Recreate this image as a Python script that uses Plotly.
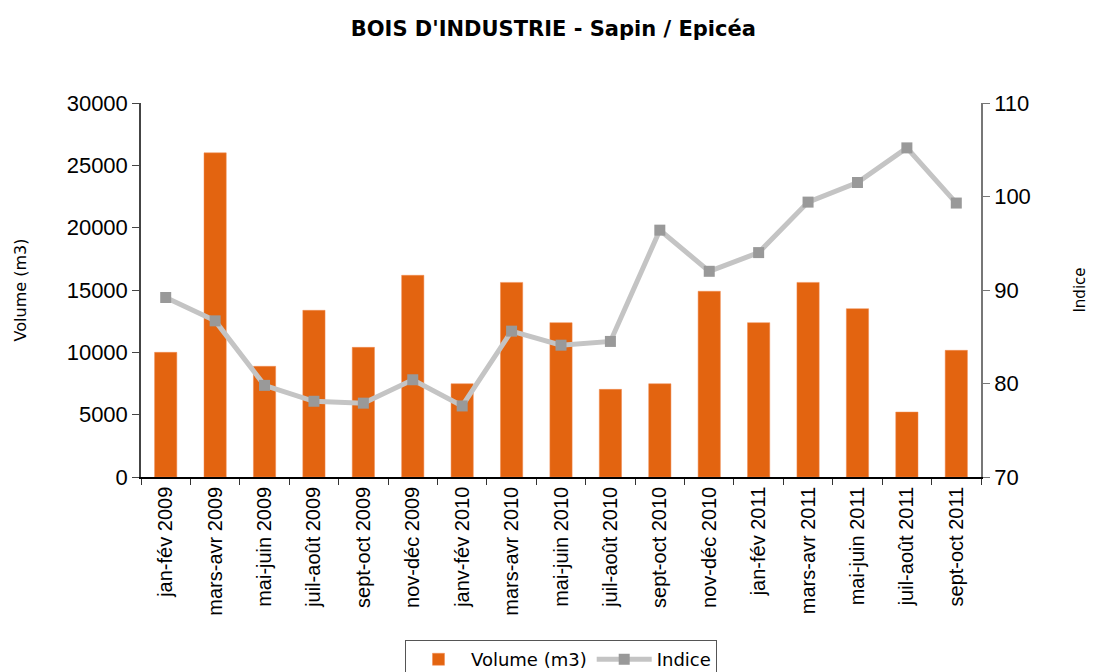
import plotly.graph_objects as go

categories = ["jan-fév 2009", "mars-avr 2009", "mai-juin 2009", "juil-août 2009", "sept-oct 2009",
              "nov-déc 2009", "janv-fév 2010", "mars-avr 2010", "mai-juin 2010", "juil-août 2010",
              "sept-oct 2010", "nov-déc 2010", "jan-fév 2011", "mars-avr 2011", "mai-juin 2011",
              "juil-août 2011", "sept-oct 2011"]
volume = [10000, 26000, 8880, 13370, 10400, 16180, 7480, 15610, 12380, 7030,
          7480, 14900, 12380, 15610, 13500, 5210, 10160]
indice = [89.2, 86.7, 79.8, 78.1, 77.9, 80.4, 77.6, 85.6, 84.1, 84.5,
          96.4, 92.0, 94.0, 99.4, 101.5, 105.2, 99.3]

fig = go.Figure()
fig.add_trace(go.Bar(x=categories, y=volume, name="Volume (m3)",
                     marker=dict(color="#E36410", line=dict(color="#F08A50", width=0.5)),
                     width=0.45, yaxis="y"))
fig.add_trace(go.Scatter(x=categories, y=indice, name="Indice", yaxis="y2",
                         mode="lines+markers",
                         line=dict(color="#C4C4C4", width=5),
                         marker=dict(symbol="square", size=11, color="#999999")))

fig.update_layout(
    width=1095, height=672,
    paper_bgcolor="white", plot_bgcolor="white",
    margin=dict(l=133, r=122, t=95, b=203, autoexpand=False),
    title=dict(text="<b>BOIS D'INDUSTRIE - Sapin / Epicéa</b>", x=0.498, xanchor="center",
               y=0.970, yanchor="middle",
               font=dict(family="DejaVu Sans, sans-serif", size=21, color="black")),
    font=dict(family="Liberation Sans, Arial, sans-serif", color="black"),
    xaxis=dict(type="category", tickangle=-90, tickfont=dict(size=20),
               showline=True, linecolor="black", linewidth=1.5,
               ticks="outside", ticklen=6, tickcolor="#333333", tickson="boundaries",
               showgrid=False, range=[-0.5, 16.5], automargin=False),
    yaxis=dict(range=[0, 30000], dtick=5000, tickformat="d", tickfont=dict(size=22),
               title=dict(text="Volume (m3)", font=dict(family="DejaVu Sans, sans-serif", size=16), standoff=36),
               showline=True, linecolor="#444444", linewidth=1.5,
               ticks="outside", ticklen=7, tickcolor="#444444", showgrid=False, zeroline=False,
               automargin=False),
    yaxis2=dict(range=[70, 110], dtick=10, overlaying="y", side="right", tickfont=dict(size=22),
                title=dict(text="Indice", font=dict(family="DejaVu Sans, sans-serif", size=15), standoff=45),
                showline=True, linecolor="#777777", linewidth=1.5,
                ticks="outside", ticklen=7, tickcolor="#777777", showgrid=False, zeroline=False,
                automargin=False),
    legend=dict(orientation="h", x=0.5, xanchor="center", y=-0.436, yanchor="top",
                bordercolor="#555555", borderwidth=1, itemwidth=55,
                font=dict(family="DejaVu Sans, sans-serif", size=18)),
    showlegend=True,
)

fig.write_html("out.html")
